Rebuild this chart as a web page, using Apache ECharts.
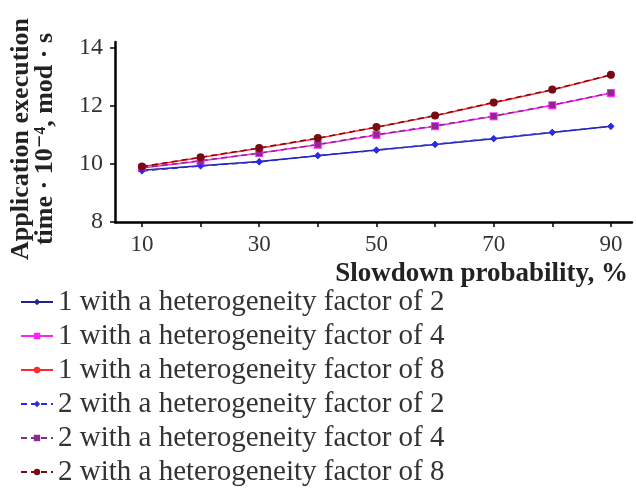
<!DOCTYPE html>
<html>
<head>
<meta charset="utf-8">
<script src="https://cdn.jsdelivr.net/npm/echarts@6/dist/echarts.min.js"></script>
<style>
  html, body { margin: 0; padding: 0; background: #fff; }
  #chart { width: 636px; height: 491px; }
</style>
</head>
<body>
<div id="chart"></div>
<script>
// slowdown probability, %
const probs = [10, 20, 30, 40, 50, 60, 70, 80, 90];
const xTicks = [10, 20, 30, 40, 50, 60, 70, 80, 90];
const xLabels = [10, 30, 50, 70, 90];
const yTicks = [8, 10, 12, 14];

// application execution time, x 10^-4 mod*s
const s1f2 = [9.78, 9.94, 10.08, 10.28, 10.48, 10.67, 10.87, 11.08, 11.30];
const s1f4 = [9.86, 10.10, 10.38, 10.66, 11.00, 11.30, 11.64, 12.02, 12.44];
const s1f8 = [9.90, 10.22, 10.54, 10.88, 11.26, 11.66, 12.11, 12.55, 13.06];
const s2f2 = [9.76, 9.93, 10.07, 10.29, 10.47, 10.68, 10.88, 11.09, 11.29];
const s2f4 = [9.87, 10.11, 10.37, 10.67, 11.01, 11.31, 11.65, 12.03, 12.45];
const s2f8 = [9.91, 10.23, 10.55, 10.89, 11.27, 11.67, 12.12, 12.56, 13.07];

const names = [
  '1 with a heterogeneity factor of 2',
  '1 with a heterogeneity factor of 4',
  '1 with a heterogeneity factor of 8',
  '2 with a heterogeneity factor of 2',
  '2 with a heterogeneity factor of 4',
  '2 with a heterogeneity factor of 8'
];
const colors = ['#23238a', '#ff22ff', '#ff2a2a', '#2a2af0', '#8a2a8a', '#7a0a12'];
const symbols = ['diamond', 'rect', 'circle', 'diamond', 'rect', 'circle'];
const sizes = [7, 8, 7, 7, 6, 8];
const dashed = [false, false, false, true, true, true];
const values = [s1f2, s1f4, s1f8, s2f2, s2f4, s2f8];

const serif = '"Liberation Serif", "DejaVu Serif", serif';

const chart = echarts.init(document.getElementById('chart'));

chart.setOption({
  animation: false,
  color: colors,
  grid: { left: 115, right: 4, top: 42, bottom: 269 },
  legend: {
    orient: 'vertical',
    left: 20,
    top: 287,
    height: 200,
    padding: 0,
    itemGap: 4,
    itemWidth: 32,
    itemHeight: 8,
    textStyle: { fontFamily: serif, fontSize: 29, lineHeight: 30, color: '#333' },
    data: names
  },
  xAxis: {
    type: 'value',
    min: 5.4,
    max: 93.6,
    name: 'Slowdown probability, %',
    nameLocation: 'end',
    nameGap: 0,
    nameTextStyle: {
      fontFamily: serif, fontSize: 27, fontWeight: 'bold', color: '#222',
      align: 'right', verticalAlign: 'top', padding: [39, 4, 0, 0]
    },
    axisLine: { lineStyle: { color: '#000', width: 2.5 } },
    axisTick: { customValues: xTicks, length: 5, lineStyle: { color: '#000', width: 1.5 } },
    axisLabel: { customValues: xLabels, fontFamily: serif, fontSize: 23, color: '#333', margin: 11 },
    splitLine: { show: false }
  },
  yAxis: {
    type: 'value',
    min: 8,
    max: 14.2,
    name: 'Application execution\ntime · 10\u207B\u2074, mod · s',
    nameLocation: 'middle',
    nameRotate: 90,
    nameGap: 58,
    nameTextStyle: {
      fontFamily: serif, fontSize: 26, fontWeight: 'bold', color: '#222',
      lineHeight: 24, padding: [0, 14, 0, 0]
    },
    axisLine: { show: true, lineStyle: { color: '#000', width: 2.5 } },
    axisTick: { show: true, customValues: yTicks, length: 5, lineStyle: { color: '#000', width: 1.5 } },
    axisLabel: { customValues: yTicks, fontFamily: serif, fontSize: 24, color: '#333', margin: 12 },
    splitLine: { show: false }
  },
  series: names.map(function (n, i) {
    return {
      name: n,
      type: 'line',
      data: probs.map(function (p, j) { return [p, values[i][j]]; }),
      symbol: symbols[i],
      symbolSize: sizes[i],
      lineStyle: { width: 1.5, type: dashed[i] ? [6, 4] : 'solid' },
      itemStyle: { color: colors[i] }
    };
  })
});
</script>
</body>
</html>
